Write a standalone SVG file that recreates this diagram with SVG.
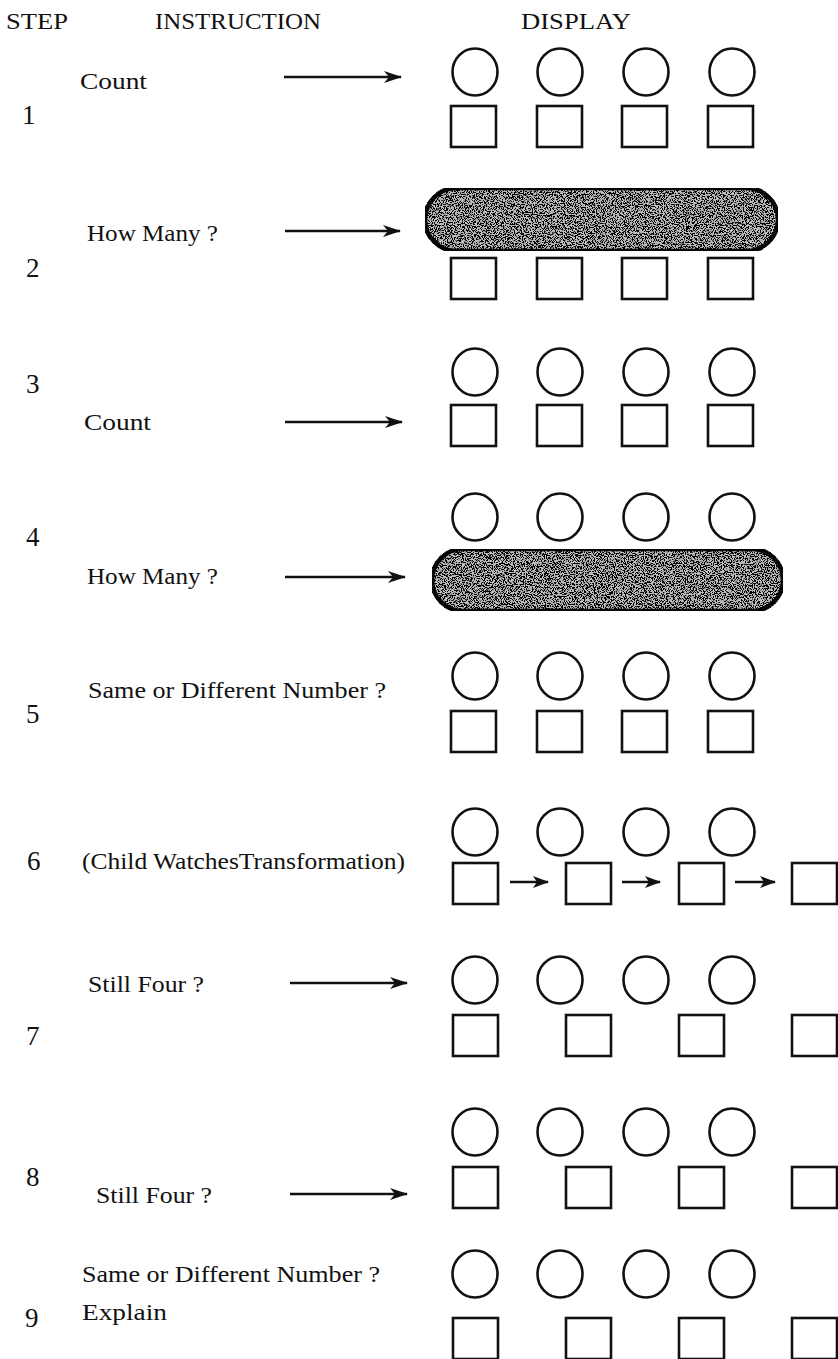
<svg xmlns="http://www.w3.org/2000/svg" xmlns:xlink="http://www.w3.org/1999/xlink" width="838" height="1359" viewBox="0 0 838 1359">
  <style>
    text { font-family: "Liberation Serif", "Times New Roman", serif; fill: #111; }
    .hdr { font-size: 24px; }
    .ins { font-size: 24px; }
    .num { font-size: 27px; }
    .shape { fill: none; stroke: #111; stroke-width: 2.6; }
    .pill { fill: #bcbcbc; stroke: #111; stroke-width: 4.5; }
    .link { fill: none; stroke: #111; stroke-width: 2.4; }
  </style>
  <defs>
    <ellipse id="c" class="shape" cx="0" cy="0" rx="22.5" ry="23.5"/>
    <rect id="s" class="shape" x="0" y="0" width="45" height="41"/>
    <marker id="head" viewBox="0 0 18 12" refX="17" refY="6" markerWidth="18" markerHeight="12" markerUnits="userSpaceOnUse" orient="auto">
      <path d="M0,0 L18,6 L0,12 L5,6 z" fill="#111"/>
    </marker>
    <marker id="headSmall" viewBox="0 0 16 12" refX="15" refY="6" markerWidth="16" markerHeight="12" markerUnits="userSpaceOnUse" orient="auto">
      <path d="M0,0 L16,6 L0,12 L4,6 z" fill="#111"/>
    </marker>
    <!-- stippled shading for the covering bars -->
    <filter id="grain" x="0" y="0" width="100%" height="100%">
      <feTurbulence type="fractalNoise" baseFrequency="0.9" numOctaves="2" seed="7" result="noise"/>
      <feColorMatrix in="noise" type="matrix" values="0 0 0 0 0  0 0 0 0 0  0 0 0 0 0  14 0 0 0 -6.6" result="dots"/>
      <feComposite in="dots" in2="SourceGraphic" operator="in" result="clipped"/>
      <feMerge>
        <feMergeNode in="SourceGraphic"/>
        <feMergeNode in="clipped"/>
      </feMerge>
    </filter>
  </defs>

  <!-- column headings -->
  <g id="headings">
    <text class="hdr" x="6" y="29" textLength="62" lengthAdjust="spacingAndGlyphs">STEP</text>
    <text class="hdr" x="155" y="29" textLength="166" lengthAdjust="spacingAndGlyphs">INSTRUCTION</text>
    <text class="hdr" x="521" y="29" textLength="110" lengthAdjust="spacingAndGlyphs">DISPLAY</text>
  </g>

  <!-- step 1 -->
  <g id="step1">
    <text class="num" x="22" y="124">1</text>
    <text class="ins" x="80" y="89" textLength="67" lengthAdjust="spacingAndGlyphs">Count</text>
    <g id="display1">
      <use xlink:href="#c" x="475" y="72"/><use xlink:href="#c" x="560" y="72"/><use xlink:href="#c" x="646" y="72"/><use xlink:href="#c" x="732" y="72"/>
      <use xlink:href="#s" x="451" y="106"/><use xlink:href="#s" x="537" y="106"/><use xlink:href="#s" x="622" y="106"/><use xlink:href="#s" x="708" y="106"/>
    </g>
  </g>

  <!-- step 2 -->
  <g id="step2">
    <text class="num" x="26" y="277">2</text>
    <text class="ins" x="87" y="241" textLength="131" lengthAdjust="spacingAndGlyphs">How Many ?</text>
    <g id="display2">
      <rect class="pill" x="425" y="188" width="353" height="63" rx="31.5" filter="url(#grain)"/>
      <use xlink:href="#s" x="451" y="258"/><use xlink:href="#s" x="537" y="258"/><use xlink:href="#s" x="622" y="258"/><use xlink:href="#s" x="708" y="258"/>
    </g>
  </g>

  <!-- step 3 -->
  <g id="step3">
    <text class="num" x="26" y="393">3</text>
    <text class="ins" x="84" y="430" textLength="67" lengthAdjust="spacingAndGlyphs">Count</text>
    <g id="display3">
      <use xlink:href="#c" x="475" y="372"/><use xlink:href="#c" x="560" y="372"/><use xlink:href="#c" x="646" y="372"/><use xlink:href="#c" x="732" y="372"/>
      <use xlink:href="#s" x="451" y="405"/><use xlink:href="#s" x="537" y="405"/><use xlink:href="#s" x="622" y="405"/><use xlink:href="#s" x="708" y="405"/>
    </g>
  </g>

  <!-- step 4 -->
  <g id="step4">
    <text class="num" x="26" y="546">4</text>
    <text class="ins" x="87" y="584" textLength="131" lengthAdjust="spacingAndGlyphs">How Many ?</text>
    <g id="display4">
      <use xlink:href="#c" x="475" y="517"/><use xlink:href="#c" x="560" y="517"/><use xlink:href="#c" x="646" y="517"/><use xlink:href="#c" x="732" y="517"/>
      <rect class="pill" x="432" y="549" width="351" height="62" rx="31" filter="url(#grain)"/>
    </g>
  </g>

  <!-- step 5 -->
  <g id="step5">
    <text class="num" x="26" y="723">5</text>
    <text class="ins" x="88" y="698" textLength="298" lengthAdjust="spacingAndGlyphs">Same or Different Number ?</text>
    <g id="display5">
      <use xlink:href="#c" x="475" y="676"/><use xlink:href="#c" x="560" y="676"/><use xlink:href="#c" x="646" y="676"/><use xlink:href="#c" x="732" y="676"/>
      <use xlink:href="#s" x="451" y="711"/><use xlink:href="#s" x="537" y="711"/><use xlink:href="#s" x="622" y="711"/><use xlink:href="#s" x="708" y="711"/>
    </g>
  </g>

  <!-- step 6 -->
  <g id="step6">
    <text class="num" x="27" y="870">6</text>
    <text class="ins" x="82" y="869" textLength="323" lengthAdjust="spacingAndGlyphs">(Child WatchesTransformation)</text>
    <g id="display6">
      <use xlink:href="#c" x="475" y="832"/><use xlink:href="#c" x="560" y="832"/><use xlink:href="#c" x="646" y="832"/><use xlink:href="#c" x="732" y="832"/>
      <use xlink:href="#s" x="453" y="863"/><use xlink:href="#s" x="566" y="863"/><use xlink:href="#s" x="679" y="863"/><use xlink:href="#s" x="792" y="863"/>
    </g>
  </g>

  <!-- step 7 -->
  <g id="step7">
    <text class="num" x="26" y="1045">7</text>
    <text class="ins" x="88" y="992" textLength="116" lengthAdjust="spacingAndGlyphs">Still Four ?</text>
    <g id="display7">
      <use xlink:href="#c" x="475" y="980"/><use xlink:href="#c" x="560" y="980"/><use xlink:href="#c" x="646" y="980"/><use xlink:href="#c" x="732" y="980"/>
      <use xlink:href="#s" x="453" y="1015"/><use xlink:href="#s" x="566" y="1015"/><use xlink:href="#s" x="679" y="1015"/><use xlink:href="#s" x="792" y="1015"/>
    </g>
  </g>

  <!-- step 8 -->
  <g id="step8">
    <text class="num" x="26" y="1186">8</text>
    <text class="ins" x="96" y="1203" textLength="116" lengthAdjust="spacingAndGlyphs">Still Four ?</text>
    <g id="display8">
      <use xlink:href="#c" x="475" y="1132"/><use xlink:href="#c" x="560" y="1132"/><use xlink:href="#c" x="646" y="1132"/><use xlink:href="#c" x="732" y="1132"/>
      <use xlink:href="#s" x="453" y="1167"/><use xlink:href="#s" x="566" y="1167"/><use xlink:href="#s" x="679" y="1167"/><use xlink:href="#s" x="792" y="1167"/>
    </g>
  </g>

  <!-- step 9 -->
  <g id="step9">
    <text class="num" x="25" y="1327">9</text>
    <text class="ins" x="82" y="1282" textLength="298" lengthAdjust="spacingAndGlyphs">Same or Different Number ?</text>
    <text class="ins" x="82" y="1320" textLength="85" lengthAdjust="spacingAndGlyphs">Explain</text>
    <g id="display9">
      <use xlink:href="#c" x="475" y="1274"/><use xlink:href="#c" x="560" y="1274"/><use xlink:href="#c" x="646" y="1274"/><use xlink:href="#c" x="732" y="1274"/>
      <use xlink:href="#s" x="453" y="1318"/><use xlink:href="#s" x="566" y="1318"/><use xlink:href="#s" x="679" y="1318"/><use xlink:href="#s" x="792" y="1318"/>
    </g>
  </g>

  <!-- connectors: instruction arrows and the row-6 shift arrows -->
  <g id="connectors">
    <line class="link" x1="284" y1="77" x2="401" y2="77" marker-end="url(#head)"/>
    <line class="link" x1="285" y1="231" x2="400" y2="231" marker-end="url(#head)"/>
    <line class="link" x1="285" y1="422" x2="402" y2="422" marker-end="url(#head)"/>
    <line class="link" x1="285" y1="577" x2="405" y2="577" marker-end="url(#head)"/>
    <line class="link" x1="290" y1="983" x2="407" y2="983" marker-end="url(#head)"/>
    <line class="link" x1="290" y1="1194" x2="407" y2="1194" marker-end="url(#head)"/>
    <line class="link" x1="510" y1="882" x2="548" y2="882" marker-end="url(#headSmall)"/>
    <line class="link" x1="622" y1="882" x2="660" y2="882" marker-end="url(#headSmall)"/>
    <line class="link" x1="735" y1="882" x2="775" y2="882" marker-end="url(#headSmall)"/>
  </g>
</svg>
